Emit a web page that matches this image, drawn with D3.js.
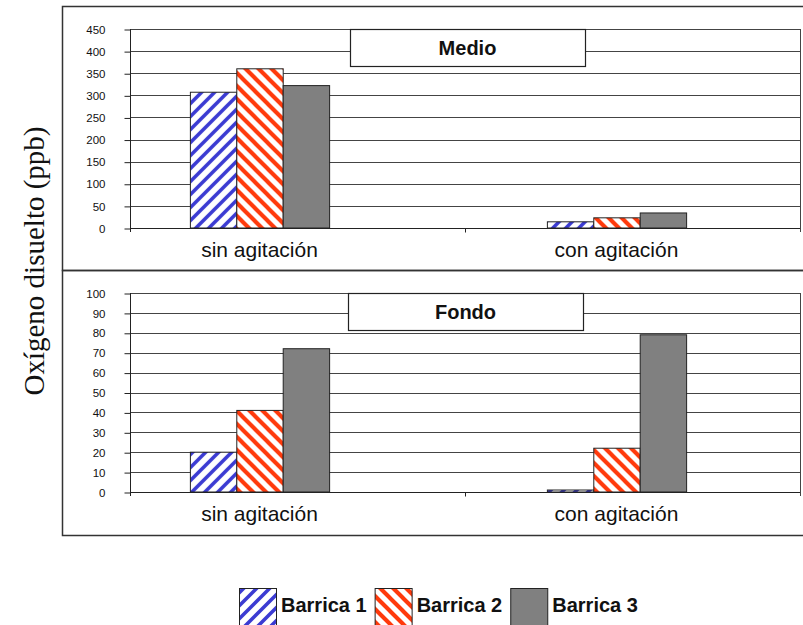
<!DOCTYPE html>
<html>
<head>
<meta charset="utf-8">
<script src="https://cdn.jsdelivr.net/npm/d3@7"></script>
<style>
  body { margin: 0; background: #fff; }
  svg { display: block; }
</style>
</head>
<body>
<svg id="chart"></svg>
<script>
// data
var categories = ["sin agitación", "con agitación"];
var series = ["Barrica 1", "Barrica 2", "Barrica 3"];
var medioValues = [[307, 360, 322], [14, 23, 34]];
var fondoValues = [[20, 41, 72], [1, 22, 79]];
var medioTicks = [0, 50, 100, 150, 200, 250, 300, 350, 400, 450];
var fondoTicks = [0, 10, 20, 30, 40, 50, 60, 70, 80, 90, 100];
var yTitle = "Oxígeno disuelto (ppb)";

var width = 803, height = 625;
var svg = d3.select("#chart").attr("width", width).attr("height", height);

var defs = svg.append("defs");
// blue "/" stripes
var p1 = defs.append("pattern")
  .attr("id", "pat1").attr("patternUnits", "userSpaceOnUse")
  .attr("width", 13).attr("height", 13);
p1.append("rect").attr("width", 13).attr("height", 13).attr("fill", "#fff");
p1.append("path")
  .attr("d", "M-3,3L3,-3M0,13L13,0M10,16L16,10")
  .attr("stroke", "#3b3bd2").attr("stroke-width", 3.6);
// red "\" stripes
var p2 = defs.append("pattern")
  .attr("id", "pat2").attr("patternUnits", "userSpaceOnUse")
  .attr("width", 13).attr("height", 13);
p2.append("rect").attr("width", 13).attr("height", 13).attr("fill", "#fff");
p2.append("path")
  .attr("d", "M-3,10L3,16M0,0L13,13M10,-3L16,3")
  .attr("stroke", "#ff3a0c").attr("stroke-width", 4.1);

var fills = ["url(#pat1)", "url(#pat2)", "#808080"];

var plotLeft = 130, plotRight = 800;
var xAxisScale = d3.scaleBand().domain(categories).range([plotLeft, plotRight]);
var xGroup = d3.scaleBand().domain(categories).range([81, 795])
  .paddingInner(0.61).paddingOuter(0.305);
var xSeries = d3.scaleBand().domain(series).range([0, xGroup.bandwidth()]);

var panels = [
  { title: "Medio", values: medioValues, ticks: medioTicks, top: 6, bottom: 270,
    yTop: 29, yZero: 228, box: [350, 29, 235, 37] },
  { title: "Fondo", values: fondoValues, ticks: fondoTicks, top: 270, bottom: 535,
    yTop: 293, yZero: 492, box: [348, 293, 235, 37] }
];

panels.forEach(function(p) {
  var g = svg.append("g");
  // outer frame
  g.append("rect")
    .attr("x", 62.5).attr("y", p.top + 0.5)
    .attr("width", 760).attr("height", p.bottom - p.top)
    .attr("fill", "none").attr("stroke", "#333").attr("stroke-width", 1.5);

  var y = d3.scaleLinear()
    .domain([0, d3.max(p.ticks)])
    .range([p.yZero, p.yTop]);

  // gridlines
  g.append("g").selectAll("line")
    .data(p.ticks)
    .enter().append("line")
      .attr("x1", plotLeft).attr("x2", plotRight)
      .attr("y1", function(d) { return Math.round(y(d)) + 0.5; })
      .attr("y2", function(d) { return Math.round(y(d)) + 0.5; })
      .attr("stroke", "#444").attr("stroke-width", 1);
  // right border of plot area
  g.append("line")
    .attr("x1", plotRight + 0.5).attr("x2", plotRight + 0.5)
    .attr("y1", p.yTop).attr("y2", p.yZero + 4)
    .attr("stroke", "#444");

  // y axis
  var yAxis = d3.axisLeft(y).tickValues(p.ticks).tickSize(6).tickSizeOuter(0).tickPadding(19);
  var ax = g.append("g")
    .attr("transform", "translate(" + (plotLeft + 0.5) + ",0.5)")
    .call(yAxis);
  ax.select(".domain").remove();
  ax.selectAll("line").attr("stroke", "#222");
  ax.selectAll("text")
    .attr("font-family", "Arial, 'Liberation Sans', sans-serif")
    .attr("font-size", "11.5px").attr("fill", "#111");
  g.append("line")
    .attr("x1", plotLeft + 0.5).attr("x2", plotLeft + 0.5)
    .attr("y1", p.yTop).attr("y2", p.yZero + 4)
    .attr("stroke", "#222");

  // bars
  var groups = g.append("g").selectAll("g")
    .data(categories)
    .enter().append("g")
      .attr("transform", function(c) { return "translate(" + xGroup(c) + ",0)"; });
  groups.selectAll("rect")
    .data(function(c, i) {
      return series.map(function(s, j) { return { s: s, j: j, v: p.values[i][j] }; });
    })
    .enter().append("rect")
      .attr("x", function(d) { return xSeries(d.s) + 0.5; })
      .attr("y", function(d) { return y(d.v); })
      .attr("width", xSeries.bandwidth())
      .attr("height", function(d) { return y(0) - y(d.v); })
      .attr("fill", function(d) { return fills[d.j]; })
      .attr("stroke", "#222").attr("stroke-width", 1);

  // category axis
  var zy = Math.round(y(0)) + 0.5;
  g.append("line")
    .attr("x1", plotLeft).attr("x2", plotRight)
    .attr("y1", zy).attr("y2", zy)
    .attr("stroke", "#222");
  var bounds = categories.map(function(c) { return xAxisScale(c); }).concat([plotRight]);
  g.append("g").selectAll("line")
    .data(bounds.slice(1, -1))
    .enter().append("line")
      .attr("x1", function(d) { return Math.round(d) + 0.5; })
      .attr("x2", function(d) { return Math.round(d) + 0.5; })
      .attr("y1", zy).attr("y2", zy + 4)
      .attr("stroke", "#222");
  g.append("g").selectAll("text")
    .data(categories)
    .enter().append("text")
      .attr("x", function(c) { return xGroup(c) + xGroup.bandwidth() / 2; })
      .attr("y", p.yZero + 29)
      .attr("text-anchor", "middle")
      .attr("font-family", "Arial, 'Liberation Sans', sans-serif")
      .attr("font-size", "21px").attr("fill", "#111")
      .text(function(c) { return c; });

  // title box
  g.append("rect")
    .attr("x", p.box[0] + 0.5).attr("y", p.box[1] + 0.5)
    .attr("width", p.box[2]).attr("height", p.box[3])
    .attr("fill", "#fff").attr("stroke", "#222").attr("stroke-width", 1.2);
  g.append("text")
    .attr("x", p.box[0] + p.box[2] / 2).attr("y", p.box[1] + p.box[3] / 2 + 7)
    .attr("text-anchor", "middle")
    .attr("font-family", "Arial, 'Liberation Sans', sans-serif")
    .attr("font-size", "20px").attr("font-weight", "bold").attr("fill", "#111")
    .text(p.title);
});

// y title
svg.append("text")
  .attr("transform", "translate(44,261) rotate(-90)")
  .attr("text-anchor", "middle")
  .attr("font-family", "'Times New Roman', 'Liberation Serif', serif")
  .attr("font-size", "29px").attr("fill", "#111")
  .text(yTitle);

// legend
var lx = 239;
series.forEach(function(s, j) {
  svg.append("rect")
    .attr("x", lx + 0.5).attr("y", 588.5)
    .attr("width", 37).attr("height", 38)
    .attr("fill", fills[j]).attr("stroke", "#222");
  var t = svg.append("text")
    .attr("x", lx + 42).attr("y", 612)
    .attr("font-family", "Arial, 'Liberation Sans', sans-serif")
    .attr("font-size", "20px").attr("font-weight", "bold").attr("fill", "#111")
    .text(s);
  lx += 42 + t.node().getComputedTextLength() + 8;
});
</script>
</body>
</html>
